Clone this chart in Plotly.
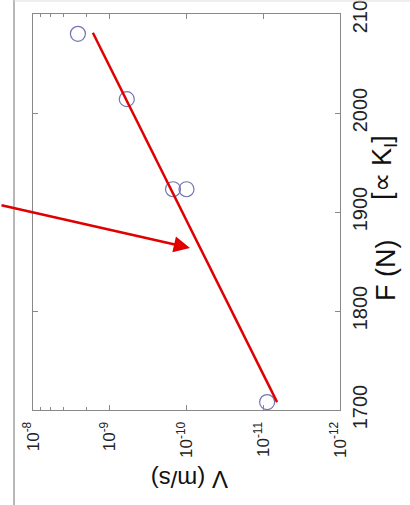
import plotly.graph_objects as go

# Data
velocity = [2.6e-9, 6.0e-10, 1.5e-10, 1.0e-10, 8.9e-12]   # V (m/s)
force = [2080, 2014, 1923, 1923, 1708]                    # F (N)
fit_v = [1.66e-9, 6.6e-12]
fit_f = [2081, 1708]
v_ticks = [1e-8, 1e-9, 1e-10, 1e-11, 1e-12]
v_ticktext = ["10<sup>-8</sup>", "10<sup>-9</sup>", "10<sup>-10</sup>", "10<sup>-11</sup>", "10<sup>-12</sup>"]
f_ticks = [1700, 1800, 1900, 2000, 2100]

FONT = "Liberation Sans, Arial, sans-serif"

fig = go.Figure()
fig.add_trace(go.Scatter(x=velocity, y=force, mode="markers",
                         marker=dict(symbol="circle-open", size=15, color="#7474b0",
                                     line=dict(width=1.2, color="#7474b0")),
                         showlegend=False))
fig.add_trace(go.Scatter(x=fit_v, y=fit_f, mode="lines",
                         line=dict(color="#e00000", width=2.5), showlegend=False))

axis_common = dict(showline=True, linecolor="#888888", linewidth=1, mirror="ticks",
                   ticks="inside", tickcolor="#888888", showgrid=False, zeroline=False,
                   ticklabeloverflow="allow", automargin=False)

fig.update_layout(
    width=410, height=505,
    margin=dict(l=33, r=70, t=14, b=95),
    paper_bgcolor="white", plot_bgcolor="white",
    xaxis=dict(type="log", range=[-8, -12], tickvals=v_ticks, ticktext=v_ticktext,
               tickangle=-90, ticklen=5, ticklabelstandoff=4,
               tickfont=dict(family=FONT, size=17, color="#222"),
               minor=dict(ticks="inside", ticklen=3, tickcolor="#888888", showgrid=False),
               **axis_common),
    yaxis=dict(range=[1700, 2100], tickvals=f_ticks, side="right", tickangle=-90,
               ticklen=5, ticklabelstandoff=2,
               tickfont=dict(family=FONT, size=20, color="#222"),
               **axis_common),
)

fig.add_annotation(text="V (m/s)", xref="paper", yref="paper", x=(190-33)/307, y=(410-495)/396,
                   showarrow=False, textangle=180,
                   font=dict(family=FONT, size=24, color="#111"))
fig.add_annotation(text="F (N)", xref="paper", yref="paper",
                   x=(403-33)/307, y=(410-271)/396, showarrow=False, textangle=-90,
                   font=dict(family=FONT, size=27, color="#111"))
fig.add_annotation(text="[\u221d K<sub>I</sub>]", xref="paper", yref="paper",
                   x=(403-33)/307, y=(410-168)/396, showarrow=False, textangle=-90,
                   font=dict(family=FONT, size=27, color="#111"))

# red arrow pointing at the fitted line
fig.add_annotation(text="", xref="paper", yref="paper", x=(190-33)/307, y=(410-248)/396,
                   ax=-190, ay=-43, showarrow=True, arrowhead=2, arrowsize=1.3,
                   arrowwidth=2.5, arrowcolor="#e00000", standoff=0)

# frame lines from surrounding figure
fig.add_shape(type="line", xref="paper", yref="paper", x0=(14-33)/307, x1=(14-33)/307,
              y0=(410-505)/396, y1=(410-0)/396, line=dict(color="#a0a0a0", width=1.5))
fig.add_shape(type="line", xref="paper", yref="paper", x0=(14-33)/307, x1=(410-33)/307,
              y0=(410-1)/396, y1=(410-1)/396, line=dict(color="#dddddd", width=1))

fig.write_html("out.html")
